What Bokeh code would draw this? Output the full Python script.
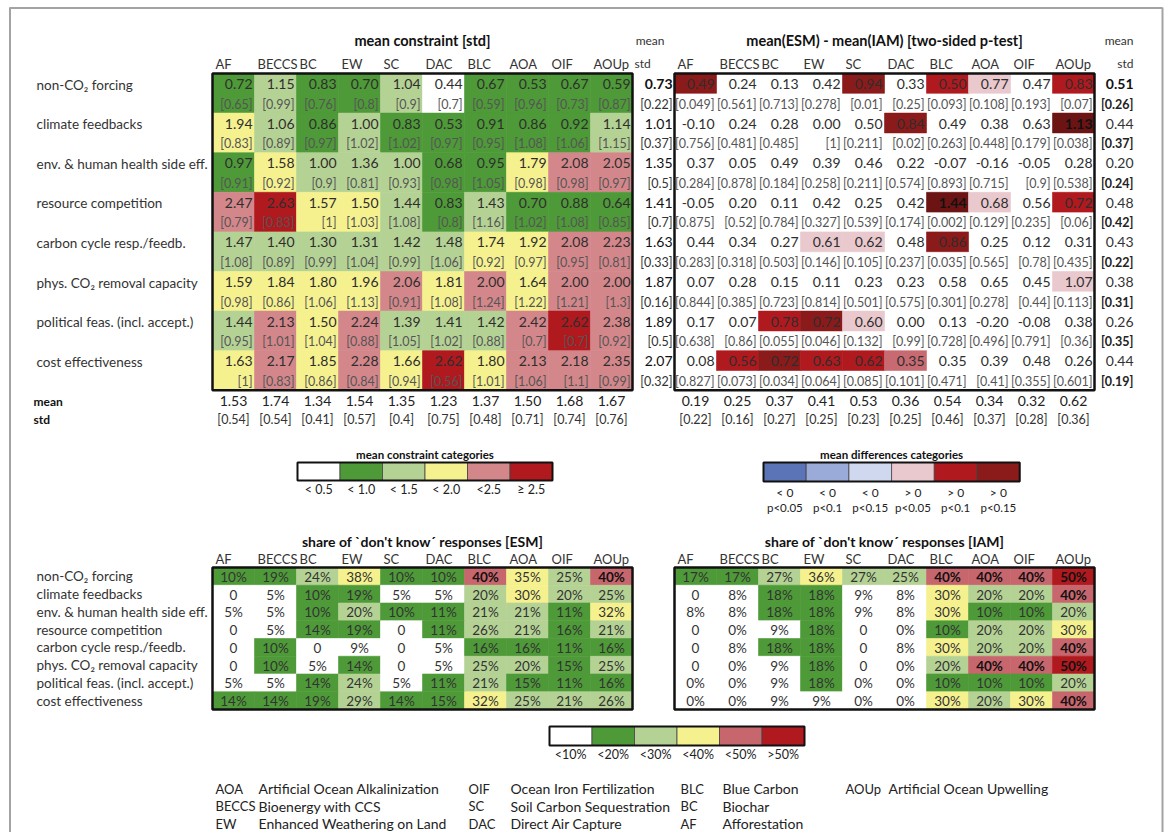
import bisect
from bokeh.plotting import figure
from bokeh.models import Range1d, ColumnDataSource
from bokeh.embed import file_html
from bokeh.resources import INLINE
from bokeh.core.properties import value

# ---------------- data ----------------
techs = ["AF", "BECCS", "BC", "EW", "SC", "DAC", "BLC", "AOA", "OIF", "AOUp"]
criteria = ["non-CO\u2082 forcing", "climate feedbacks", "env. & human health side eff.",
            "resource competition", "carbon cycle resp./feedb.", "phys. CO\u2082 removal capacity",
            "political feas. (incl. accept.)", "cost effectiveness"]

con_mean = [
    [0.72, 1.15, 0.83, 0.70, 1.04, 0.44, 0.67, 0.53, 0.67, 0.59],
    [1.94, 1.06, 0.86, 1.00, 0.83, 0.53, 0.91, 0.86, 0.92, 1.14],
    [0.97, 1.58, 1.00, 1.36, 1.00, 0.68, 0.95, 1.79, 2.08, 2.05],
    [2.47, 2.63, 1.57, 1.50, 1.44, 0.83, 1.43, 0.70, 0.88, 0.64],
    [1.47, 1.40, 1.30, 1.31, 1.42, 1.48, 1.74, 1.92, 2.08, 2.23],
    [1.59, 1.84, 1.80, 1.96, 2.06, 1.81, 2.00, 1.64, 2.00, 2.00],
    [1.44, 2.13, 1.50, 2.24, 1.39, 1.41, 1.42, 2.42, 2.62, 2.38],
    [1.63, 2.17, 1.85, 2.28, 1.66, 2.62, 1.80, 2.13, 2.18, 2.35],
]
con_std = [
    [0.65, 0.99, 0.76, 0.8, 0.9, 0.7, 0.59, 0.96, 0.73, 0.87],
    [0.83, 0.89, 0.97, 1.02, 1.02, 0.97, 0.95, 1.08, 1.06, 1.15],
    [0.91, 0.92, 0.9, 0.81, 0.93, 0.98, 1.05, 0.98, 0.98, 0.97],
    [0.79, 0.83, 1, 1.03, 1.08, 0.8, 1.16, 1.02, 1.08, 0.85],
    [1.08, 0.89, 0.99, 1.04, 0.99, 1.06, 0.92, 0.97, 0.95, 0.81],
    [0.98, 0.86, 1.06, 1.13, 0.91, 1.08, 1.24, 1.22, 1.21, 1.3],
    [0.95, 1.01, 1.04, 0.88, 1.05, 1.02, 0.88, 0.7, 0.7, 0.92],
    [1, 0.83, 0.86, 0.84, 0.94, 0.56, 1.01, 1.06, 1.1, 0.99],
]
con_row_mean = [0.73, 1.01, 1.35, 1.41, 1.63, 1.87, 1.89, 2.07]
con_row_std = [0.22, 0.37, 0.5, 0.7, 0.33, 0.16, 0.5, 0.32]
con_col_mean = [1.53, 1.74, 1.34, 1.54, 1.35, 1.23, 1.37, 1.50, 1.68, 1.67]
con_col_std = [0.54, 0.54, 0.41, 0.57, 0.4, 0.75, 0.48, 0.71, 0.74, 0.76]

diff_mean = [
    [0.49, 0.24, 0.13, 0.42, 0.94, 0.33, 0.50, 0.77, 0.47, 0.83],
    [-0.10, 0.24, 0.28, 0.00, 0.50, 0.84, 0.49, 0.38, 0.63, 1.13],
    [0.37, 0.05, 0.49, 0.39, 0.46, 0.22, -0.07, -0.16, -0.05, 0.28],
    [-0.05, 0.20, 0.11, 0.42, 0.25, 0.42, 1.44, 0.68, 0.56, 0.72],
    [0.44, 0.34, 0.27, 0.61, 0.62, 0.48, 0.86, 0.25, 0.12, 0.31],
    [0.07, 0.28, 0.15, 0.11, 0.23, 0.23, 0.58, 0.65, 0.45, 1.07],
    [0.17, 0.07, 0.78, 0.72, 0.60, 0.00, 0.13, -0.20, -0.08, 0.38],
    [0.08, 0.56, 0.72, 0.63, 0.62, 0.35, 0.35, 0.39, 0.48, 0.26],
]
diff_p = [
    [0.049, 0.561, 0.713, 0.278, 0.01, 0.25, 0.093, 0.108, 0.193, 0.07],
    [0.756, 0.481, 0.485, 1, 0.211, 0.02, 0.263, 0.448, 0.179, 0.038],
    [0.284, 0.878, 0.184, 0.258, 0.211, 0.574, 0.893, 0.715, 0.9, 0.538],
    [0.875, 0.52, 0.784, 0.327, 0.539, 0.174, 0.002, 0.129, 0.235, 0.06],
    [0.283, 0.318, 0.503, 0.146, 0.105, 0.237, 0.035, 0.565, 0.78, 0.435],
    [0.844, 0.385, 0.723, 0.814, 0.501, 0.575, 0.301, 0.278, 0.44, 0.113],
    [0.638, 0.86, 0.055, 0.046, 0.132, 0.99, 0.728, 0.496, 0.791, 0.36],
    [0.827, 0.073, 0.034, 0.064, 0.085, 0.101, 0.471, 0.41, 0.355, 0.601],
]
diff_row_mean = [0.51, 0.44, 0.20, 0.48, 0.43, 0.38, 0.26, 0.44]
diff_row_std = [0.26, 0.37, 0.24, 0.42, 0.22, 0.31, 0.35, 0.19]
diff_col_mean = [0.19, 0.25, 0.37, 0.41, 0.53, 0.36, 0.54, 0.34, 0.32, 0.62]
diff_col_std = [0.22, 0.16, 0.27, 0.25, 0.23, 0.25, 0.46, 0.37, 0.28, 0.36]
diff_rose_cells = [(7, 5)]  # cell shown in a mid rose tone in the original

dk_esm = [
    ["10%", "19%", "24%", "38%", "10%", "10%", "40%", "35%", "25%", "40%"],
    ["0", "5%", "10%", "19%", "5%", "5%", "20%", "30%", "20%", "25%"],
    ["5%", "5%", "10%", "20%", "10%", "11%", "21%", "21%", "11%", "32%"],
    ["0", "5%", "14%", "19%", "0", "11%", "26%", "21%", "16%", "21%"],
    ["0", "10%", "0", "9%", "0", "5%", "16%", "16%", "11%", "16%"],
    ["0", "10%", "5%", "14%", "0", "5%", "25%", "20%", "15%", "25%"],
    ["5%", "5%", "14%", "24%", "5%", "11%", "21%", "15%", "11%", "16%"],
    ["14%", "14%", "19%", "29%", "14%", "15%", "32%", "25%", "21%", "26%"],
]
dk_iam = [
    ["17%", "17%", "27%", "36%", "27%", "25%", "40%", "40%", "40%", "50%"],
    ["0", "8%", "18%", "18%", "9%", "8%", "30%", "20%", "20%", "40%"],
    ["8%", "8%", "18%", "18%", "9%", "8%", "30%", "10%", "10%", "20%"],
    ["0", "0%", "9%", "18%", "0", "0%", "10%", "20%", "20%", "30%"],
    ["0", "8%", "18%", "18%", "0", "8%", "30%", "20%", "20%", "40%"],
    ["0", "0%", "9%", "18%", "0", "0%", "20%", "40%", "40%", "50%"],
    ["0%", "0%", "9%", "18%", "0%", "0%", "10%", "10%", "10%", "20%"],
    ["0%", "0%", "9%", "9%", "0%", "0%", "30%", "20%", "30%", "40%"],
]

con_bins = [0.5, 1.0, 1.5, 2.0, 2.5]
con_colors = ["#ffffff", "#4e9a38", "#b5d295", "#f5f18f", "#d4878b", "#b0191e"]
con_legend = ["< 0.5", "< 1.0", "< 1.5", "< 2.0", "<2.5", "\u2265 2.5"]

diff_colors = ["#5b74b8", "#9aaad9", "#cfd8ef", "#e9c9cd", "#b0191e", "#8b1a1a"]
diff_legend_sign = ["< 0", "< 0", "< 0", "> 0", "> 0", "> 0"]
diff_legend_p = ["p<0.05", "p<0.1", "p<0.15", "p<0.05", "p<0.1", "p<0.15"]
diff_dark = "#6c1414"
diff_rose = "#c76a71"

pct_bins = [10, 20, 30, 40, 50]
pct_colors = ["#ffffff", "#4e9a38", "#b5d295", "#f5f18f", "#c8666d", "#b0191e"]
pct_legend = ["<10%", "<20%", "<30%", "<40%", "<50%", ">50%"]

abbrev = [
    [("AOA", "Artificial Ocean Alkalinization"), ("BECCS", "Bioenergy with CCS"), ("EW", "Enhanced Weathering on Land")],
    [("OIF", "Ocean Iron Fertilization"), ("SC", "Soil Carbon Sequestration"), ("DAC", "Direct Air Capture")],
    [("BLC", "Blue Carbon"), ("BC", "Biochar"), ("AF", "Afforestation")],
    [("AOUp", "Artificial Ocean Upwelling")],
]

# ---------------- figure ----------------
W, H = 1166, 832
p = figure(width=W, height=H, x_range=Range1d(0, W), y_range=Range1d(H, 0),
           output_backend="svg", toolbar_location=None,
           x_axis_location=None, y_axis_location=None, min_border=0)
p.grid.visible = False
p.outline_line_color = None
p.background_fill_color = "white"
p.border_fill_color = "white"

FONT = "Lato"
DARK = "#2e2e2e"
GREY = "#555555"


def txt(xs, ys, texts, size, color=DARK, align="left", bold=False):
    src = ColumnDataSource(dict(x=list(xs), y=list(ys), t=list(texts)))
    p.text(x="x", y="y", text="t", source=src, text_font=value(FONT),
           text_font_size=value(f"{size}px"), text_color=color,
           text_align=value(align), text_baseline=value("middle"),
           text_font_style=value("bold" if bold else "normal"))


def quads(L, R, T, B, C, lc=None, lw=0.6):
    p.quad(left=L, right=R, top=T, bottom=B, fill_color=C,
           line_color=(C if lc is None else lc), line_width=lw)


def frame(x0, y0, x1, y1, lw=2.5):
    p.quad(left=[x0], right=[x1], top=[y0], bottom=[y1], fill_color=None,
           line_color="#111111", line_width=lw)


# page frame
p.segment(x0=[9.5, 9, 1162], y0=[7, 7.5, 7], x1=[9.5, 1162, 1162], y1=[H, 7.5, H],
          line_color="#a3a3a3", line_width=2)

CW = 42
TL_X0, TR_X0 = 212, 674
TOP_Y0, RH = 73, 39.6
BOT_Y0, BRH = 567, 17.75
LABEL_X = 36
nC, nR = len(techs), len(criteria)


def fmt_g(v):
    return "[" + f"{v:g}" + "]"


def headers(x0, y):
    txt([x0 + c * CW + 3 for c in range(nC)], [y] * nC, techs, 13, color="#333333")


# ---------- top-left: mean constraint ----------
txt([(TL_X0 + TL_X0 + nC * CW) / 2], [40], ["mean constraint [std]"], 14.5, color="#111111", align="center", bold=True)
headers(TL_X0, 63)
L, R, T, B, C = [], [], [], [], []
for r in range(nR):
    for c in range(nC):
        col = con_colors[bisect.bisect_right(con_bins, con_mean[r][c])]
        L.append(TL_X0 + c * CW); R.append(TL_X0 + (c + 1) * CW)
        T.append(TOP_Y0 + r * RH); B.append(TOP_Y0 + (r + 1) * RH); C.append(col)
quads(L, R, T, B, C)
vx, vy, vt, sx, sy, st = [], [], [], [], [], []
for r in range(nR):
    for c in range(nC):
        vx.append(TL_X0 + (c + 1) * CW - 2); vy.append(TOP_Y0 + r * RH + 10.5); vt.append(f"{con_mean[r][c]:.2f}")
        sx.append(TL_X0 + (c + 1) * CW - 2); sy.append(TOP_Y0 + r * RH + 30.5); st.append(fmt_g(con_std[r][c]))
txt(vx, vy, vt, 14, align="right")
txt(sx, sy, st, 12.5, color=GREY, align="right")
frame(TL_X0, TOP_Y0, TL_X0 + nC * CW, TOP_Y0 + nR * RH)

# row means (left)
txt([664], [40], ["mean"], 12, color="#333333", align="right")
txt([634], [63], ["std"], 12, color="#333333", align="left")
txt([672], [TOP_Y0 + 10.5], [f"{con_row_mean[0]:.2f}"], 14, color="#111111", align="right", bold=True)
txt([672] * (nR - 1), [TOP_Y0 + r * RH + 10.5 for r in range(1, nR)],
    [f"{v:.2f}" for v in con_row_mean[1:]], 14, color="#111111", align="right")
txt([672] * nR, [TOP_Y0 + r * RH + 30.5 for r in range(nR)],
    [fmt_g(v) for v in con_row_std], 12.5, color="#333333", align="right")

# column means (left)
txt([TL_X0 + c * CW + CW / 2 for c in range(nC)], [400.5] * nC, [f"{v:.2f}" for v in con_col_mean], 14, color="#222222", align="center")
txt([TL_X0 + c * CW + CW / 2 for c in range(nC)], [419] * nC, [fmt_g(v) for v in con_col_std], 12.5, color="#333333", align="center")

# row labels (top)
txt([LABEL_X] * nR, [TOP_Y0 + r * RH + 11 for r in range(nR)], criteria, 13.5, color="#333333")
txt([33, 33], [400.5, 418.5], ["mean", "std"], 12, color="#111111", bold=True)

# ---------- top-right: mean difference ----------
txt([(TR_X0 + TR_X0 + nC * CW) / 2], [40], ["mean(ESM) - mean(IAM) [two-sided p-test]"], 14.5, color="#111111", align="center", bold=True)
headers(TR_X0, 63)
L, R, T, B, C = [], [], [], [], []
boldcells = []
for r in range(nR):
    for c in range(nC):
        v, pv = diff_mean[r][c], diff_p[r][c]
        idx = None
        if pv < 0.05:
            idx = 5
        elif pv < 0.1:
            idx = 4
        elif pv < 0.15:
            idx = 3
        if idx is None:
            continue
        if v < 0:
            idx = 2 - (idx - 3)
        col = diff_colors[idx]
        if idx == 5 and abs(v) > 1:
            col = diff_dark
            boldcells.append((r, c))
        if (r, c) in diff_rose_cells:
            col = diff_rose
        L.append(TR_X0 + c * CW); R.append(TR_X0 + (c + 1) * CW)
        T.append(TOP_Y0 + r * RH); B.append(TOP_Y0 + r * RH + RH / 2); C.append(col)
quads(L, R, T, B, C)
vx, vy, vt, bx, by, bt, sx, sy, st = [], [], [], [], [], [], [], [], []
for r in range(nR):
    for c in range(nC):
        x = TR_X0 + (c + 1) * CW - 2
        if (r, c) in boldcells:
            bx.append(x); by.append(TOP_Y0 + r * RH + 10.5); bt.append(f"{diff_mean[r][c]:.2f}")
        else:
            vx.append(x); vy.append(TOP_Y0 + r * RH + 10.5); vt.append(f"{diff_mean[r][c]:.2f}")
        sx.append(x); sy.append(TOP_Y0 + r * RH + 30.5); st.append(fmt_g(diff_p[r][c]))
txt(vx, vy, vt, 14, align="right")
txt(bx, by, bt, 14, color="#111111", align="right", bold=True)
txt(sx, sy, st, 12.5, color=GREY, align="right")
frame(TR_X0, TOP_Y0, TR_X0 + nC * CW, TOP_Y0 + nR * RH)

txt([1133], [40], ["mean"], 12, color="#333333", align="right")
txt([1133], [63], ["std"], 12, color="#333333", align="right")
txt([1133], [TOP_Y0 + 10.5], [f"{diff_row_mean[0]:.2f}"], 14, color="#111111", align="right", bold=True)
txt([1133] * (nR - 1), [TOP_Y0 + r * RH + 10.5 for r in range(1, nR)],
    [f"{v:.2f}" for v in diff_row_mean[1:]], 14, color="#333333", align="right")
txt([1133] * nR, [TOP_Y0 + r * RH + 30.5 for r in range(nR)],
    [fmt_g(v) for v in diff_row_std], 12.5, color="#222222", align="right", bold=True)

txt([TR_X0 + c * CW + CW / 2 for c in range(nC)], [400.5] * nC, [f"{v:.2f}" for v in diff_col_mean], 14, color="#222222", align="center")
txt([TR_X0 + c * CW + CW / 2 for c in range(nC)], [419] * nC, [fmt_g(v) for v in diff_col_std], 12.5, color="#333333", align="center")


# ---------- legends (middle) ----------
def legend(x0, y0, y1, lw, colors):
    n = len(colors)
    quads([x0 + i * lw for i in range(n)], [x0 + (i + 1) * lw for i in range(n)],
          [y0] * n, [y1] * n, colors, lc="#444444", lw=0.8)
    frame(x0, y0, x0 + n * lw, y1, lw=2)
    return [x0 + i * lw + lw / 2 for i in range(n)]


cx = legend(297, 462, 480, 42.5, con_colors)
txt([(297 + 297 + 6 * 42.5) / 2], [454], ["mean constraint categories"], 11.5, color="#111111", align="center", bold=True)
txt(cx, [489] * 6, con_legend, 12.5, color="#222222", align="center")

dx = legend(763, 462, 481, 42.7, diff_colors)
txt([(763 + 763 + 6 * 42.7) / 2], [454], ["mean differences categories"], 11.5, color="#111111", align="center", bold=True)
txt(dx, [491.5] * 6, diff_legend_sign, 12, color="#222222", align="center")
txt(dx, [507] * 6, diff_legend_p, 11.5, color="#222222", align="center")


# ---------- bottom: don't know shares ----------
def pct_val(s):
    return float(s.rstrip("%"))


def dk_table(x0, data, title):
    txt([(x0 + x0 + nC * CW) / 2], [541], [title], 14, color="#111111", align="center", bold=True)
    headers(x0, 558)
    L, R, T, B, C = [], [], [], [], []
    nx, ny, nt, bx, by, bt = [], [], [], [], [], []
    for r in range(nR):
        for c in range(nC):
            v = pct_val(data[r][c])
            col = pct_colors[bisect.bisect_right(pct_bins, v)]
            L.append(x0 + c * CW); R.append(x0 + (c + 1) * CW)
            T.append(BOT_Y0 + r * BRH); B.append(BOT_Y0 + (r + 1) * BRH); C.append(col)
            xc, yc = x0 + c * CW + CW / 2, BOT_Y0 + r * BRH + BRH / 2 + 0.5
            if v >= 40:
                bx.append(xc); by.append(yc); bt.append(data[r][c])
            else:
                nx.append(xc); ny.append(yc); nt.append(data[r][c])
    quads(L, R, T, B, C)
    txt(nx, ny, nt, 13.5, color="#333333", align="center")
    txt(bx, by, bt, 13.5, color="#111111", align="center", bold=True)
    frame(x0, BOT_Y0, x0 + nC * CW, BOT_Y0 + nR * BRH)


dk_table(TL_X0, dk_esm, "share of `don't know\u00b4 responses [ESM]")
dk_table(TR_X0, dk_iam, "share of `don't know\u00b4 responses [IAM]")
txt([LABEL_X] * nR, [BOT_Y0 + r * BRH + BRH / 2 for r in range(nR)], criteria, 13.5, color="#333333")

px = legend(549, 726, 745, 42.5, pct_colors)
txt(px, [754] * 6, pct_legend, 12.5, color="#222222", align="center")

# ---------- abbreviations ----------
ab_x = [215, 468, 680, 845]
nm_x = [258, 510, 722, 888]
row_y = [788, 805.5, 823]
for g, items in enumerate(abbrev):
    txt([ab_x[g]] * len(items), row_y[:len(items)], [a for a, _ in items], 13, color="#222222")
    txt([nm_x[g]] * len(items), row_y[:len(items)], [n for _, n in items], 14, color="#222222")

open("out.html", "w").write(file_html(p, INLINE))
